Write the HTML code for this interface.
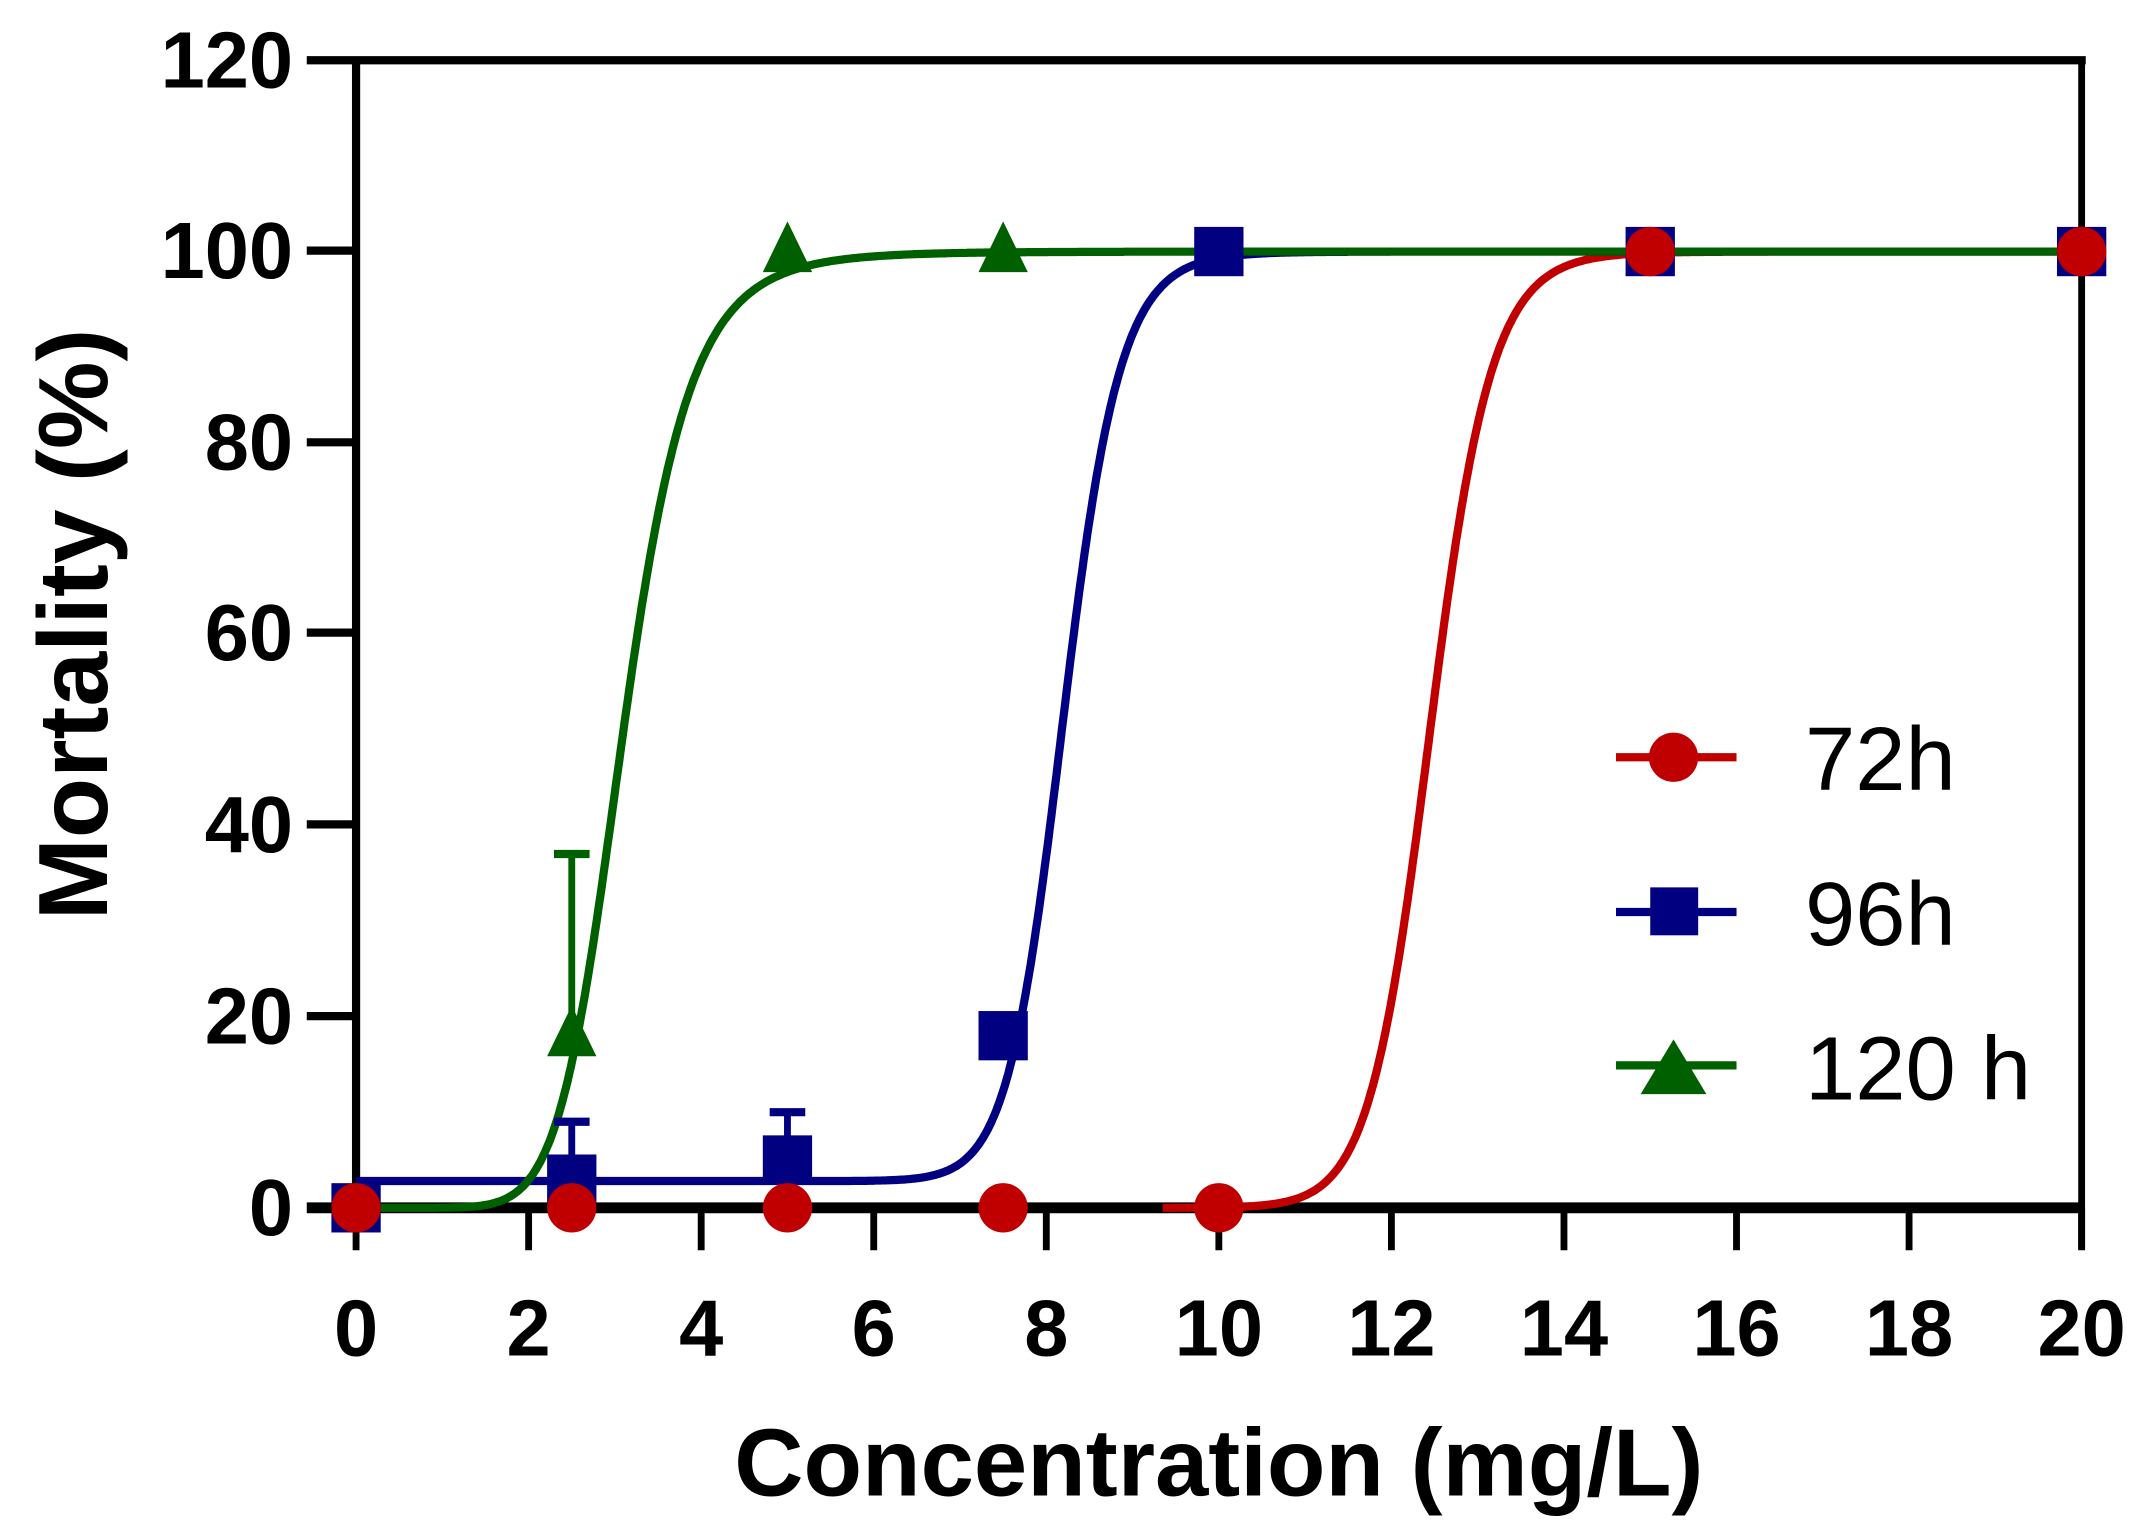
<!DOCTYPE html>
<html><head><meta charset="utf-8"><style>
html,body{margin:0;padding:0;background:#fff;}
svg{display:block;}
text{font-family:"Liberation Sans",Arial,sans-serif;}
</style></head><body>
<svg id="s" width="2146" height="1531" viewBox="0 0 1567 1118" preserveAspectRatio="none" xmlns="http://www.w3.org/2000/svg">
<rect width="1567" height="1118" fill="#fff"/>
<g stroke="#000" fill="none">
<line x1="260" y1="44" x2="260" y2="884" stroke-width="6"/>
<line x1="224" y1="44" x2="1523" y2="44" stroke-width="6"/>
<line x1="1520" y1="44" x2="1520" y2="912" stroke-width="5"/>
<line x1="224" y1="882" x2="1522" y2="882" stroke-width="8"/>
<g stroke-width="6">
<line x1="224" y1="183" x2="260" y2="183"/><line x1="224" y1="323" x2="260" y2="323"/>
<line x1="224" y1="462" x2="260" y2="462"/><line x1="224" y1="602" x2="260" y2="602"/>
<line x1="224" y1="742" x2="260" y2="742"/>
</g>
<g stroke-width="5" id="xt"></g>
</g>
<g font-weight="bold" font-size="58" text-anchor="end" fill="#000">
<text x="214" y="64">120</text><text x="214" y="203">100</text><text x="214" y="343">80</text>
<text x="214" y="482">60</text><text x="214" y="622">40</text><text x="214" y="762">20</text>
<text x="214" y="902">0</text>
</g>
<g font-weight="bold" font-size="58" text-anchor="middle" fill="#000" id="xl"></g>
<text x="890" y="1092" font-weight="bold" font-size="70" text-anchor="middle">Concentration (mg/L)</text>
<text transform="translate(78,456) rotate(-90)" font-weight="bold" font-size="72" text-anchor="middle">Mortality (%)</text>
<g id="plot"></g>
<g stroke-width="6">
<line x1="1180" y1="553" x2="1268" y2="553" stroke="#c00000"/>
<circle cx="1222" cy="553" r="18" fill="#c00000"/>
<line x1="1180" y1="666" x2="1268" y2="666" stroke="#000080"/>
<rect x="1205" y="648" width="35" height="35" fill="#000080"/>
<line x1="1180" y1="778" x2="1268" y2="778" stroke="#006000"/>
<polygon points="1222,759 1246,799 1198,799" fill="#006000"/>
</g>
<g font-size="66" fill="#000">
<text x="1318" y="577">72h</text><text x="1318" y="690">96h</text><text x="1318" y="803">120 h</text>
</g>
</svg>
<script>
var NS="http://www.w3.org/2000/svg";
function X(v){return 260+63*v;} function Y(v){return 882-6.983*v;}
function el(t,a,p){var e=document.createElementNS(NS,t);for(var k in a)e.setAttribute(k,a[k]);(p||document.getElementById('plot')).appendChild(e);return e;}
var xt=document.getElementById('xt'),xl=document.getElementById('xl');
for(var i=0;i<=20;i+=2){el('line',{x1:X(i),y1:882,x2:X(i),y2:913},xt);var t=el('text',{x:X(i),y:990},xl);t.textContent=i;}
function curve(x0,x1,f,c){var d="";for(var x=x0;x<=x1+1e-9;x+=0.02){d+=(d?"L":"M")+X(x).toFixed(1)+","+Y(f(x)).toFixed(1);}el('path',{d:d,stroke:c,'stroke-width':6,fill:'none'});}
var R="#c00000",B="#000080",G="#006000";
curve(9.35,20,function(x){return 100/(1+Math.pow(12.45/x,35));},R);
curve(0,20,function(x){return 2.8+97.2/(1+Math.pow(8.2/Math.max(x,0.01),25));},B);
curve(0.01,20,function(x){return 100/(1+Math.pow(3.1/x,8));},G);
function eb(x,y,y2,c){el('line',{x1:X(x),y1:Y(y),x2:X(x),y2:Y(y2),stroke:c,'stroke-width':5});el('line',{x1:X(x)-13,y1:Y(y2),x2:X(x)+13,y2:Y(y2),stroke:c,'stroke-width':6});}
eb(2.5,18,37,G);eb(2.5,3,9,B);eb(5,5,10,B);
function sq(x,y){el('rect',{x:X(x)-18,y:Y(y)-18,width:36,height:36,fill:B});}
function tri(x,y){el('polygon',{points:X(x)+","+(Y(y)-22)+" "+(X(x)+18)+","+(Y(y)+15)+" "+(X(x)-18)+","+(Y(y)+15),fill:G});}
function ci(x,y){el('circle',{cx:X(x),cy:Y(y),r:18,fill:R});}
tri(2.5,18);tri(5,100);tri(7.5,100);
sq(0,0);sq(2.5,3);sq(5,5);sq(7.5,18);sq(10,100);sq(15,100);sq(20,100);
[0,2.5,5,7.5,10].forEach(function(x){ci(x,0);});ci(15,100);ci(20,100);
</script>
</body></html>
